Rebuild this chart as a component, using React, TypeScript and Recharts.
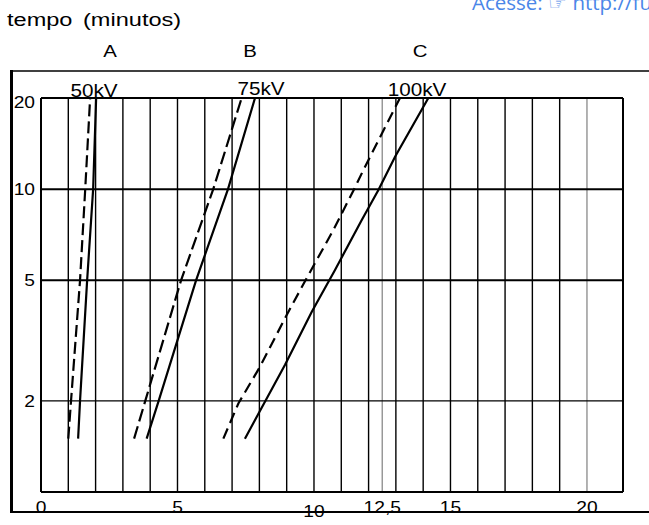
import { LineChart, Line, XAxis, YAxis, ReferenceLine } from "recharts";

const SANS = "'Liberation Sans', Arial, Helvetica, sans-serif";

// x: minutes axis values, y: tempo (minutos) on log scale
const kv50Dashed = [
  { x: 1.0, y: 1.5 },
  { x: 1.1, y: 2 },
  { x: 1.43, y: 5 },
  { x: 1.62, y: 10 },
  { x: 1.8, y: 20 },
];
const kv50Solid = [
  { x: 1.36, y: 1.5 },
  { x: 1.43, y: 2 },
  { x: 1.69, y: 5 },
  { x: 1.91, y: 10 },
  { x: 2.02, y: 20 },
];
const kv75Dashed = [
  { x: 3.41, y: 1.5 },
  { x: 3.82, y: 2 },
  { x: 5.13, y: 5 },
  { x: 6.31, y: 10 },
  { x: 7.35, y: 20 },
];
const kv75Solid = [
  { x: 3.87, y: 1.5 },
  { x: 4.31, y: 2 },
  { x: 5.68, y: 5 },
  { x: 6.85, y: 10 },
  { x: 7.84, y: 20 },
];
const kv100Dashed = [
  { x: 6.68, y: 1.5 },
  { x: 7.23, y: 1.96 },
  { x: 8.02, y: 2.59 },
  { x: 9.0, y: 3.84 },
  { x: 9.73, y: 5.08 },
  { x: 10.71, y: 7.33 },
  { x: 11.47, y: 10 },
  { x: 11.81, y: 11.57 },
  { x: 13.15, y: 20 },
];
const kv100Solid = [
  { x: 7.47, y: 1.5 },
  { x: 7.9, y: 1.77 },
  { x: 8.94, y: 2.63 },
  { x: 9.92, y: 3.94 },
  { x: 10.77, y: 5.41 },
  { x: 11.75, y: 7.91 },
  { x: 12.36, y: 9.94 },
  { x: 12.97, y: 12.8 },
  { x: 14.19, y: 20 },
];

const xTicks = [0, 5, 10, 12.5, 15, 20];
const yTicks = [2, 5, 10, 20];
const xMax = 21.32;
const vGrid = [1, 2, 3, 4, 5, 6, 7, 8, 9, 10, 11, 12, 13, 14, 15, 16, 17, 18, 19];
const vGridGray = [12.5, 20];
const hGrid = [
  { v: 10, w: 2 },
  { v: 5, w: 2 },
  { v: 2, w: 1.3 },
];

const series = [
  { name: "50kV dashed", data: kv50Dashed, dash: "12 5" },
  { name: "50kV", data: kv50Solid, dash: undefined },
  { name: "75kV dashed", data: kv75Dashed, dash: "13 5" },
  { name: "75kV", data: kv75Solid, dash: undefined },
  { name: "100kV dashed", data: kv100Dashed, dash: "11 6" },
  { name: "100kV", data: kv100Solid, dash: undefined },
];

function Stretch({
  x,
  y,
  size = 16,
  sx = 1.2,
  anchor = "middle",
  color = "#000",
  family = SANS,
  children,
}: any) {
  return (
    <text
      transform={`translate(${x},${y}) scale(${sx},1)`}
      textAnchor={anchor}
      fontSize={size}
      fontFamily={family}
      fill={color}
    >
      {children}
    </text>
  );
}

function XTick({ x, payload }: any) {
  const v = payload.value;
  const base = v === 10 ? 517 : 513;
  return (
    <Stretch x={x} y={base} size={16} sx={1.2}>
      {String(v).replace(".", ",")}
    </Stretch>
  );
}

function YTick({ y, payload }: any) {
  const v = payload.value;
  const dy = v === 20 ? 10 : 6;
  return (
    <Stretch x={35} y={y + dy} size={16} sx={1.2} anchor="end">
      {v}
    </Stretch>
  );
}

export default function App() {
  return (
    <div
      style={{
        position: "absolute",
        left: 0,
        top: 0,
        width: 649,
        height: 525,
        background: "#fff",
        overflow: "hidden",
      }}
    >
      <LineChart
        width={649}
        height={525}
        margin={{ top: 98, right: 26, bottom: 0, left: 11 }}
      >
        <XAxis
          type="number"
          dataKey="x"
          domain={[0, xMax]}
          ticks={xTicks}
          interval={0}
          axisLine={false}
          tickLine={false}
          height={33}
          tick={<XTick />}
        />
        <YAxis
          type="number"
          dataKey="y"
          scale="log"
          domain={[1, 20]}
          allowDataOverflow
          ticks={yTicks}
          interval={0}
          axisLine={false}
          tickLine={false}
          width={30}
          tick={<YTick />}
        />
        {vGrid.map((v) => (
          <ReferenceLine key={`v${v}`} x={v} stroke="#000" strokeWidth={1.4} />
        ))}
        {vGridGray.map((v) => (
          <ReferenceLine key={`g${v}`} x={v} stroke="#8a8a8a" strokeWidth={1.3} />
        ))}
        {hGrid.map((h) => (
          <ReferenceLine key={`h${h.v}`} y={h.v} stroke="#000" strokeWidth={h.w} />
        ))}
        <ReferenceLine x={0} stroke="#000" strokeWidth={2} />
        <ReferenceLine x={xMax} stroke="#000" strokeWidth={2} />
        <ReferenceLine y={20} stroke="#000" strokeWidth={2} />
        <ReferenceLine y={1} stroke="#000" strokeWidth={2} />
        {series.map((s) => (
          <Line
            key={s.name}
            data={s.data}
            dataKey="y"
            type="linear"
            stroke="#000"
            strokeWidth={2.2}
            strokeDasharray={s.dash}
            dot={false}
            activeDot={false}
            isAnimationActive={false}
          />
        ))}
      </LineChart>
      <svg
        width={649}
        height={525}
        style={{ position: "absolute", left: 0, top: 0, pointerEvents: "none" }}
      >
        <line x1={11.5} y1={70} x2={11.5} y2={513} stroke="#000" strokeWidth={3} />
        <line x1={10} y1={71} x2={649} y2={71} stroke="#000" strokeWidth={1.6} />
        <line x1={10} y1={512} x2={649} y2={512} stroke="#000" strokeWidth={2} />
        <Stretch x={7} y={26} size={19} sx={1.24} anchor="start">tempo</Stretch>
        <Stretch x={83} y={26} size={19} sx={1.24} anchor="start">(minutos)</Stretch>
        <text
          x={472}
          y={10}
          fontSize={20.5}
          fontFamily="'Open Sans', 'Noto Sans', sans-serif"
          fill="#4a86e8"
        >
          Acesse: ☞ http://fuvestibular.com.br/
        </text>
        <Stretch x={110} y={57} size={17} sx={1.2}>A</Stretch>
        <Stretch x={250} y={57} size={17} sx={1.2}>B</Stretch>
        <Stretch x={420} y={57} size={17} sx={1.2}>C</Stretch>
        <Stretch x={94} y={97} size={18} sx={1.15}>50kV</Stretch>
        <Stretch x={261} y={95} size={18} sx={1.15}>75kV</Stretch>
        <Stretch x={417} y={96} size={18} sx={1.15}>100kV</Stretch>
      </svg>
    </div>
  );
}
